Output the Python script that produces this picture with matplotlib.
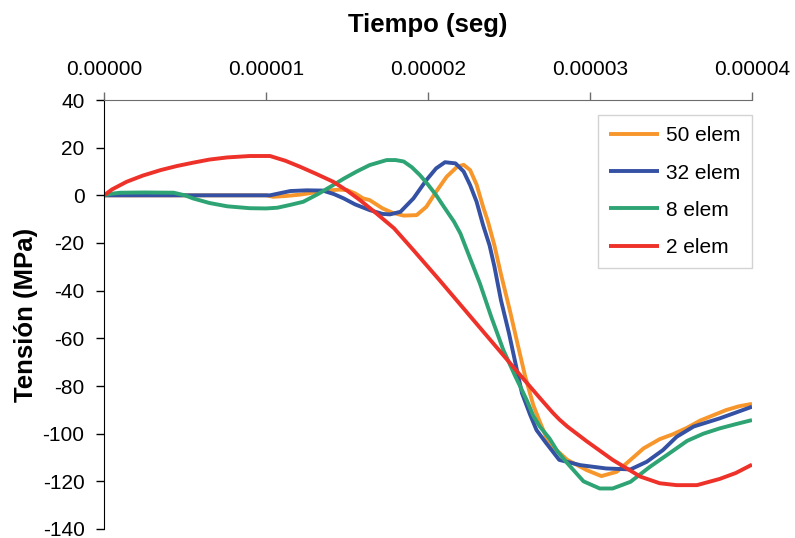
import matplotlib
matplotlib.use('Agg')
import matplotlib.pyplot as plt
import matplotlib.ticker as mticker
import numpy as np

plt.rcParams['font.family'] = ['Liberation Sans', 'DejaVu Sans']
plt.rcParams['axes.unicode_minus'] = False

# time in microseconds, stress in MPa
t_50 = [0, 10.0, 10.45, 11.2, 12.1, 13.0, 13.75, 14.5, 15.0, 15.5, 16.0, 16.4, 17.2,
        17.8, 18.5, 19.3, 19.9, 20.5, 21.15, 21.8, 22.2, 22.6, 23.0, 23.4, 23.7, 24.1,
        24.5, 25.06, 25.5, 26.0, 26.5, 26.9, 27.3, 27.7, 28.6, 29.8, 30.7, 31.65, 32.5,
        33.3, 34.3, 35.1, 36.0, 36.8, 38.4, 39.2, 40.0]
s_50 = [0, 0, -0.6, -0.3, 0.3, 1.2, 2, 2.4, 2.2, 0.8, -1.3, -2, -5.5,
        -7.3, -8.5, -8.3, -4.8, 1.5, 7.8, 12, 12.8, 10.6, 4.5, -4.8, -11, -21,
        -33, -48.5, -61.5, -76, -88, -95, -101.5, -105.5, -111, -115.3, -117.8, -116, -111,
        -106.2, -102.3, -100.3, -97.5, -94.5, -90.1, -88.5, -87.5]

t_32 = [0, 9.0, 10.25, 10.8, 11.5, 12.5, 13.5, 14.2, 14.8, 15.5, 16.4, 17.2, 17.65,
        18.3, 19.1, 19.9, 20.5, 21.05, 21.7, 22.2, 22.6, 23.0, 23.4, 23.8, 24.1, 24.5,
        25.0, 25.4, 25.8, 26.3, 26.7, 27.3, 28.1, 29.4, 31.0, 32.5, 33.5, 34.5, 35.35,
        36.4, 38.0, 40.0]
s_32 = [0, 0, 0, 0.8, 1.8, 2.1, 2, 0.5, -1.3, -3.8, -6.2, -7.8, -8,
        -6.9, -1.3, 6.4, 11.3, 13.9, 13.4, 10, 4.3, -2.7, -12.5, -21, -29.9, -43.9,
        -57.9, -70.5, -83, -92, -98.5, -104, -111, -113.2, -114.6, -115, -111.8, -106.9, -101.3,
        -97, -93.6, -88.7]

t_8 = [0, 0.5, 1.0, 2.5, 4.3, 5.0, 5.5, 6.5, 7.6, 9.0, 10.0, 10.7, 11.5, 12.3, 13.2,
       14.0, 14.8, 15.6, 16.4, 17.45, 18.0, 18.5, 19.0, 19.5, 20.0, 20.5, 21.0, 21.6,
       22.0, 22.4, 23.2, 23.9, 24.65, 25.4, 25.7, 26.1, 26.5, 26.9, 27.5, 28.0, 28.6,
       29.6, 30.6, 31.4, 32.5, 33.7, 35.1, 36.0, 37.0, 38.0, 39.0, 40.0]
s_8 = [0, 0.7, 1.1, 1.2, 1.1, 0, -1.3, -3.2, -4.6, -5.4, -5.5, -5.2, -4, -2.7, 0.5,
       3.7, 7, 10, 12.7, 14.8, 14.8, 14.2, 11.8, 8.5, 4.5, 0.1, -5, -11,
       -16, -23, -36.9, -50.9, -64.9, -76.1, -80.3, -86, -92.5, -97, -102, -107.5, -112.4,
       -120, -123, -123, -120.2, -113.9, -107.3, -103, -100, -97.8, -96, -94.3]

t_2 = [0, 0.5, 1.4, 2.4, 3.5, 4.5, 5.5, 6.5, 7.6, 9.0, 10.25, 11.2, 12.1, 13.1, 14.15,
       15.0, 15.8, 16.8, 17.9, 19.1, 20.7, 22.8, 24.85, 25.8, 26.9, 27.7, 28.1, 28.6,
       29.8, 31.4, 33.1, 34.3, 35.35, 36.6, 38.0, 39.0, 40.0]
s_2 = [0, 2.5, 5.7, 8.3, 10.6, 12.3, 13.7, 15, 15.9, 16.5, 16.5, 14.5, 12, 9, 5.7,
       2, -2, -7.5, -13.8, -23, -35.5, -52.3, -68.7, -76.3, -85, -91.2, -94, -97,
       -103.2, -111, -118, -120.8, -121.6, -121.6, -119, -116.5, -113]

labels = ['50 elem', '32 elem', '8 elem', '2 elem']
colors = ['#F7962B', '#3451A3', '#2EA474', '#EE3129']

fig = plt.figure(figsize=(7.95, 5.38), dpi=100)
ax = fig.add_axes([104/795, 9/538, 648/795, 429/538])

series = [(t_50, s_50), (t_32, s_32), (t_8, s_8), (t_2, s_2)]
for (t, s), lab, c in zip(series, labels, colors):
    ax.plot(np.array(t) * 1e-6, s, color=c, lw=2.8, label=lab,
            solid_joinstyle='round', solid_capstyle='butt')

ax.set_xlim(0, 4e-5)
ax.set_ylim(-140, 40)
ax.set_xticks([0, 1e-5, 2e-5, 3e-5, 4e-5])
ax.xaxis.set_major_formatter(mticker.FormatStrFormatter('%.5f'))
ax.set_yticks(range(-140, 41, 20))

ax.xaxis.tick_top()
ax.xaxis.set_label_position('top')
ax.spines['bottom'].set_visible(False)
ax.spines['right'].set_visible(False)
ax.spines['top'].set_color('#6d6d6d')
ax.spines['left'].set_color('black')
ax.tick_params(axis='x', direction='out', length=6, width=1, color='#6d6d6d',
               labelsize=15, pad=9)
ax.tick_params(axis='y', direction='out', length=6, width=1, labelsize=15, pad=8)

ax.set_xlabel('Tiempo (seg)', fontsize=18.5, fontweight='bold', labelpad=20)
ax.set_ylabel('Tensión (MPa)', fontsize=18.5, fontweight='bold', labelpad=3)

leg = ax.legend(loc='upper left', bbox_to_anchor=(598/795, 1 - 115/538),
                bbox_transform=fig.transFigure, fontsize=15, frameon=True,
                fancybox=False, handlelength=2.4, handletextpad=0.3,
                labelspacing=0.87, borderpad=0.55, borderaxespad=0)
leg.get_frame().set_edgecolor('#c8c8c8')
leg.get_frame().set_linewidth(1)

fig.savefig('out.png', dpi=100)
